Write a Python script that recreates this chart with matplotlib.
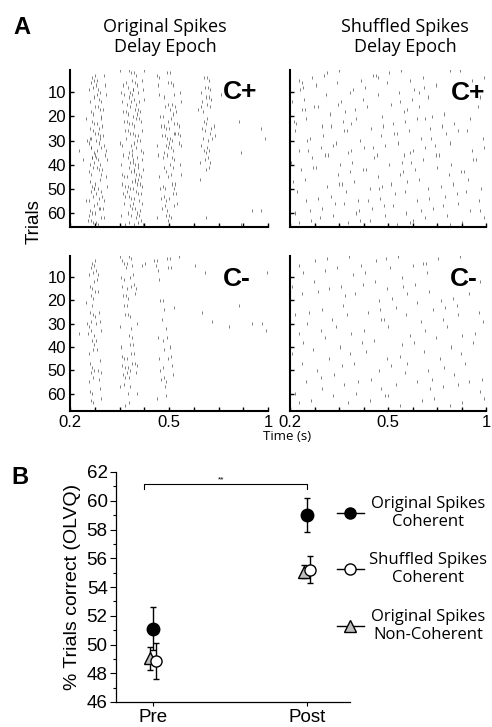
import numpy as np
import matplotlib
matplotlib.use('Agg')
import matplotlib.pyplot as plt
from matplotlib.lines import Line2D

plt.rcParams['font.family'] = ['Liberation Sans', 'DejaVu Sans']

# --- panel A: spike counts per cell (rows = 5 trials, columns = 25 ms bins, 0.2-1.0 s)
# each group of 4 digits covers 0.1 s
orig_cplus = [
    "1002 2100 1232 0021 1000 0120 0000 0000",
    "0003 3100 2342 0011 2100 0220 0000 0000",
    "0002 3100 2332 0012 2100 0230 1000 0000",
    "0003 2200 1332 0012 3100 1210 0000 0000",
    "0013 3100 1232 0013 3200 0321 0001 0010",
    "0014 4100 1333 0012 4200 0231 0000 0001",
    "0104 3200 2232 0013 3200 0320 0001 0000",
    "0014 4200 2342 0012 3100 0220 0000 0000",
    "0003 3200 2343 0013 2100 0110 0000 0000",
    "0004 3100 2343 0012 2100 0100 0000 0000",
    "0013 3200 2332 0012 2100 0000 0000 0000",
    "0003 4100 1332 0012 1100 0000 0000 0110",
    "0013 3100 2233 0012 2000 0010 0001 0000",
]
orig_cminus = [
    "0002 1000 3311 1211 1100 1000 0000 0000",
    "0003 2000 1210 0011 1000 0100 0000 0001",
    "0003 1000 2220 0010 0000 0000 0000 0000",
    "0003 1000 1210 0011 0000 0000 0000 0000",
    "0012 1000 1100 0001 1000 0100 0001 0000",
    "0013 2000 1210 0010 0000 0010 0000 0110",
    "0113 1000 1200 0001 0000 0000 0100 0001",
    "0002 1000 1210 0012 1000 0000 0000 0000",
    "0002 1000 2210 0012 1000 0000 0000 0000",
    "0003 2000 2320 0011 1000 0000 0000 0000",
    "0003 2000 2210 0012 1000 0000 0000 0000",
    "0002 1000 2210 0001 0000 0000 0000 0000",
    "0002 1000 1100 0011 0000 0000 0000 0000",
]
shuf_cplus = [
    "1101 0110 1001 0120 1011 0100 0011 0101",
    "0210 1001 0110 1001 0100 1201 0000 0000",
    "1010 0101 1001 0010 1101 0010 0000 0001",
    "0111 1010 0110 1001 0011 0101 0100 0010",
    "2010 0110 1020 0101 1010 1020 1010 0100",
    "1011 0100 1101 0010 1101 0110 0101 1001",
    "0110 1011 0110 1101 0101 1011 0010 0101",
    "1001 0110 1010 0110 1021 0101 1010 0110",
    "0101 1001 0101 1010 0110 1001 0101 1001",
    "1010 0101 1010 0111 1001 0110 1010 0101",
    "0110 1010 0101 1010 0110 1010 0101 1010",
    "1001 0101 1011 0101 1010 0101 1001 0110",
    "0101 1010 0101 1001 0101 1010 0110 1001",
]
shuf_cminus = [
    "0100 1010 0101 0011 0100 1110 1001 0000",
    "0010 0101 0010 1000 1010 0010 0000 0000",
    "1001 0010 1001 0101 0010 1000 0000 0001",
    "0100 1000 0110 0010 1001 0010 1010 0100",
    "0001 0100 1000 1010 0100 1001 0101 0010",
    "1010 0010 0100 0011 0010 0100 1001 0001",
    "0100 1001 0010 1000 1001 0010 0100 1010",
    "0010 0100 1001 0100 0010 1001 0010 0100",
    "1001 0010 0100 1001 0100 0100 1001 0001",
    "0100 1000 1010 0010 1001 0010 0100 1000",
    "0010 0101 0001 0100 0010 1001 0010 0101",
    "1000 0100 1010 0010 0100 0010 1001 0010",
    "0101 0010 0100 1001 1010 0101 0010 1001",
]
trial_ticks = [10, 20, 30, 40, 50, 60]
time_ticks = [0.2, 0.3, 0.4, 0.5, 0.6, 0.7, 0.8, 0.9, 1.0]
time_labels = ['0.2', '', '', '', '0.5', '', '', '', '1']

# --- panel B
groups = ['Pre', 'Post']
orig_coh = [51.1, 59.0]
orig_coh_err = [1.5, 1.2]
shuf_coh = [48.85, 55.2]
shuf_coh_err = [1.25, 0.95]
orig_noncoh = [49.05, 55.05]
orig_noncoh_err = [0.8, 0.45]

W, H = 492, 727
fig = plt.figure(figsize=(W / 100, H / 100), dpi=100)


def fx(x):
    return x / W


def fy(y):
    return 1 - y / H


def box(x0, y0, x1, y1):
    return [fx(x0), fy(y1), (x1 - x0) / W, (y1 - y0) / H]


def cells_to_spikes(rows, per_row=5, t0=0.2, t1=1.0):
    times, trials = [], []
    for r, row in enumerate(rows):
        row = row.replace(' ', '')
        w = (t1 - t0) / len(row)
        for c, ch in enumerate(row):
            for k in range(int(ch)):
                # spread the spikes of one cell over its trials and time span
                u = ((r * 31 + c * 17 + k * 7) * 0.6180339887) % 1
                v = ((r * 13 + c * 29 + k * 11) * 0.7548776662) % 1
                times.append(t0 + (c + u) * w)
                trials.append(r * per_row + 1 + int(v * per_row))
    return np.array(times), np.array(trials)


def raster(ax, rows, ylim, left, bottom, tag, tag_xy):
    t, tr = cells_to_spikes(rows)
    ax.vlines(t, tr - 0.65, tr + 0.65, color='0.3', lw=0.5)
    ax.set_xlim(0.2, 1.0)
    ax.set_ylim(*ylim)
    ax.set_xticks(time_ticks)
    ax.set_xticklabels(time_labels if bottom else [])
    ax.set_yticks(trial_ticks)
    ax.set_yticklabels([str(v) for v in trial_ticks] if left else [])
    ax.tick_params(direction='in', length=3, width=1, labelsize=12, pad=3)
    for s in ['top', 'right']:
        ax.spines[s].set_visible(False)
    for s in ['left', 'bottom']:
        ax.spines[s].set_linewidth(1.5)
    fig.text(fx(tag_xy[0]), fy(tag_xy[1]), tag, fontsize=19, fontweight='bold',
             ha='center', va='center', family='Liberation Sans')


ax1 = fig.add_axes(box(70, 70, 268, 227))
ax2 = fig.add_axes(box(290, 70, 486, 227))
ax3 = fig.add_axes(box(70, 256, 268, 411))
ax4 = fig.add_axes(box(290, 256, 486, 411))
raster(ax1, orig_cplus, (65.8, 0.8), True, False, 'C+', (240, 92))
raster(ax2, shuf_cplus, (65.8, 0.8), False, False, 'C+', (468, 93))
raster(ax3, orig_cminus, (67.5, 0.9), True, True, 'C-', (237, 279))
raster(ax4, shuf_cminus, (67.5, 0.9), False, True, 'C-', (464, 279))

fig.text(fx(165), fy(37), 'Original Spikes\nDelay Epoch', ha='center', va='center',
         fontsize=13, family='Open Sans', linespacing=1.2)
fig.text(fx(405), fy(37), 'Shuffled Spikes\nDelay Epoch', ha='center', va='center',
         fontsize=13, family='Open Sans', linespacing=1.2)
fig.text(fx(22), fy(27), 'A', fontsize=17, fontweight='bold', ha='center', va='center')
fig.text(fx(20), fy(478), 'B', fontsize=17, fontweight='bold', ha='center', va='center')
fig.text(fx(34), fy(222), 'Trials', rotation=90, fontsize=13.5, ha='center', va='center')
fig.text(fx(287), fy(437), 'Time (s)', fontsize=9.5, ha='center', va='center', family='Open Sans')

# --- panel B
axb = fig.add_axes(box(116, 472, 350, 702))
x = np.arange(len(groups))
eb = dict(ecolor='k', elinewidth=1, capsize=2, capthick=1, mec='k', mew=1)
axb.errorbar(x - 0.02, orig_noncoh, yerr=orig_noncoh_err, fmt='^', ms=8, mfc='0.75', zorder=3, **eb)
axb.errorbar(x + 0.02, shuf_coh, yerr=shuf_coh_err, fmt='o', ms=8, mfc='white', zorder=4, **eb)
axb.errorbar(x, orig_coh, yerr=orig_coh_err, fmt='o', ms=9, mfc='k', zorder=5, **eb)
axb.plot([-0.06, -0.06, 1.0, 1.0], [60.85, 61.2, 61.2, 60.85], color='k', lw=0.8)
axb.text(0.44, 61.45, '**', fontsize=6, ha='center', va='center')
axb.set_xlim(-0.24, 1.28)
axb.set_ylim(46, 62)
axb.set_xticks(x)
axb.set_xticklabels(groups, fontsize=13.5)
axb.set_yticks(np.arange(46, 63, 2))
axb.set_yticks(np.arange(46, 63, 1), minor=True)
axb.tick_params(axis='y', labelsize=13.5, length=4, width=0.8, pad=2)
axb.tick_params(axis='y', which='minor', length=2, width=0.8)
axb.tick_params(axis='x', length=3, width=0.8, pad=2)
for s in ['top', 'right']:
    axb.spines[s].set_visible(False)
for s in ['left', 'bottom']:
    axb.spines[s].set_linewidth(0.9)
axb.set_ylabel('% Trials correct (OLVQ)', fontsize=14, labelpad=4)

# legend drawn by hand at the right of panel B
legend_items = [
    ('Original Spikes\nCoherent', 'o', 'k', 513),
    ('Shuffled Spikes\nCoherent', 'o', 'white', 569),
    ('Original Spikes\nNon-Coherent', '^', '0.75', 626),
]
for label, mk, fc, yy in legend_items:
    fig.add_artist(Line2D([fx(337), fx(364)], [fy(yy), fy(yy)], transform=fig.transFigure,
                          color='k', lw=1))
    fig.add_artist(Line2D([fx(350)], [fy(yy)], transform=fig.transFigure, marker=mk,
                          ms=8, mfc=fc, mec='k', mew=1, lw=0))
    fig.text(fx(428), fy(yy), label, ha='center', va='center', fontsize=12,
             family='Open Sans', linespacing=1.15)

fig.savefig('out.png', dpi=100)
